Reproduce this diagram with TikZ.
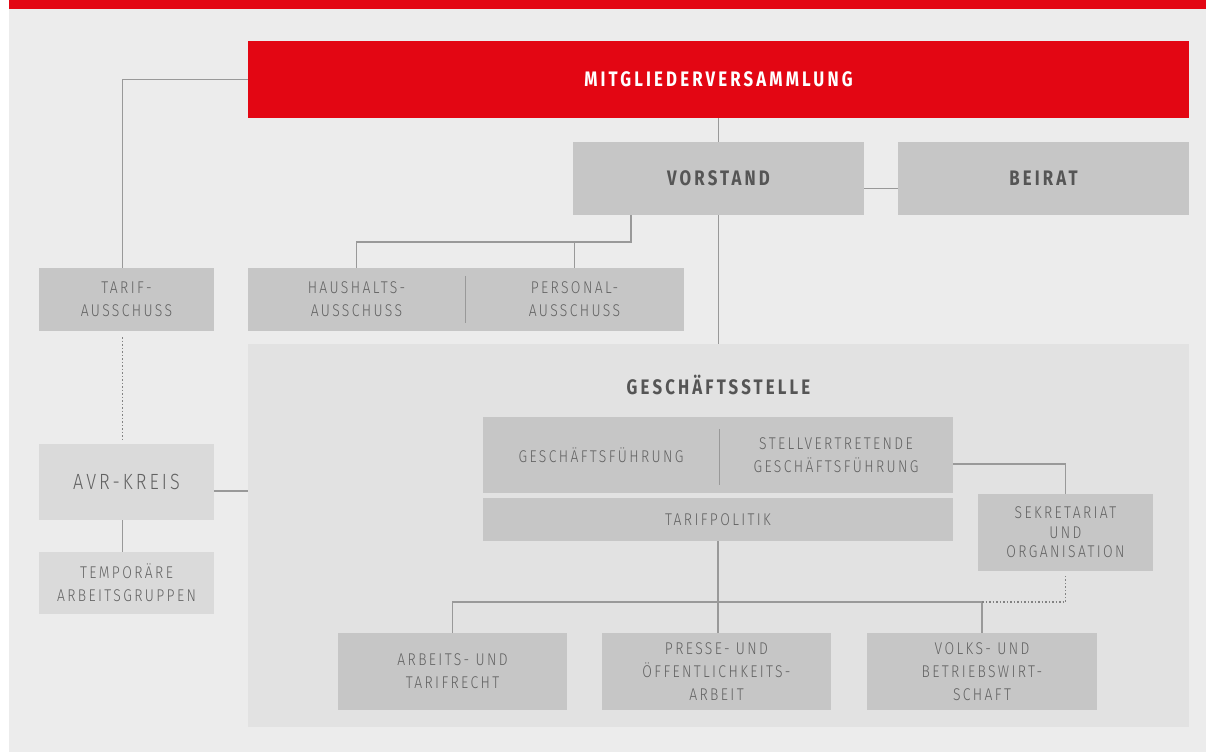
\documentclass[tikz,border=0pt]{standalone}
\usepackage{fontspec}
\setmainfont{Fira Sans}
\newfontfamily\lightfont{Fira Sans Light}[FakeStretch=0.82,LetterSpace=14]
\newfontfamily\headfont{Fira Sans}[FakeStretch=0.8,LetterSpace=15]
\definecolor{dbred}{HTML}{E30613}
\definecolor{bggray}{HTML}{ECECEC}
\definecolor{boxgray}{HTML}{C6C6C6}
\definecolor{areagray}{HTML}{E2E2E2}
\definecolor{palegray}{HTML}{DADADA}
\definecolor{linegray}{HTML}{999999}
\definecolor{txtgray}{HTML}{626262}
\definecolor{darktxt}{HTML}{555555}
\begin{document}
\begin{tikzpicture}[x=1pt,y=-1pt,
	box/.style={fill=boxgray,inner sep=0pt,text=txtgray,align=center,font=\lightfont\fontsize{17}{23}\selectfont},
	palebox/.style={box,fill=palegray},
	headbox/.style={box,text=darktxt,font=\headfont\bfseries\fontsize{21}{23}\selectfont},
	conn/.style={draw=linegray,line width=1.3pt},
	dotconn/.style={conn,draw=linegray!85!black,line width=1.5pt,dash pattern=on 1.5pt off 2pt}]
	\useasboundingbox (0,0) rectangle (1206,752);
	%BACKGROUND
	\fill[white] (0,0) rectangle (1206,752);
	\fill[bggray] (9,0) rectangle (1206,752);
	\fill[dbred] (9,0) rectangle (1206,9);
	\coordinate (lcol) at (122.5,0);
	\coordinate (vsplit) at (631,242);
	\coordinate (bus) at (719,602);
	%TOP
	\node[headbox,fill=dbred,text=white,minimum width=941pt,minimum height=77pt] (mv) at (718.5,79.5) {MITGLIEDERVERSAMMLUNG};
	\node[headbox,minimum width=291pt,minimum height=73pt] (vorstand) at (718.5,178.5) {VORSTAND};
	\node[headbox,minimum width=291pt,minimum height=73pt] (beirat) at (1043.5,178.5) {BEIRAT};
	%AUSSCHUESSE
	\node[box,minimum width=175pt,minimum height=63pt] (tarif) at (126.5,299.5) {TARIF-\\AUSSCHUSS};
	\node[box,minimum width=217pt,minimum height=63pt] (haus) at (356.5,299.5) {HAUSHALTS-\\AUSSCHUSS};
	\node[box,minimum width=219pt,minimum height=63pt] (pers) at (574.5,299.5) {PERSONAL-\\AUSSCHUSS};
	%AVR
	\node[palebox,minimum width=175pt,minimum height=76pt,font=\lightfont\fontsize{22}{23}\selectfont] (avr) at (126.5,482) {AVR-KREIS};
	\node[palebox,minimum width=175pt,minimum height=62pt] (temp) at (126.5,583) {TEMPORÄRE\\ARBEITSGRUPPEN};
	%GESCHAEFTSSTELLE
	\node[fill=areagray,inner sep=0pt,minimum width=941pt,minimum height=383pt] (gs) at (718.5,535.5) {};
	\node[headbox,fill=none] (gstitle) at (718.5,385) {GESCHÄFTSSTELLE};
	\node[box,minimum width=236pt,minimum height=76pt] (gf) at (601,455) {GESCHÄFTSFÜHRUNG};
	\node[box,minimum width=234pt,minimum height=76pt] (sgf) at (836,455) {STELLVERTRETENDE\\GESCHÄFTSFÜHRUNG};
	\node[box,minimum width=470pt,minimum height=43pt] (tp) at (718,519.5) {TARIFPOLITIK};
	\node[box,minimum width=175pt,minimum height=77pt,font=\lightfont\fontsize{17}{19.5}\selectfont] (sek) at (1065.5,532.5) {SEKRETARIAT\\UND\\ORGANISATION};
	\node[box,minimum width=229pt,minimum height=77pt] (atr) at (452.5,671.5) {ARBEITS- UND\\TARIFRECHT};
	\node[box,minimum width=229pt,minimum height=77pt] (pres) at (716.5,671.5) {PRESSE- UND\\ÖFFENTLICHKEITS-\\ARBEIT};
	\node[box,minimum width=230pt,minimum height=77pt] (vbw) at (982,671.5) {VOLKS- UND\\BETRIEBSWIRT-\\SCHAFT};
	%LINES
	\draw[conn] (mv.south) -- (vorstand.north);
	\draw[conn] ([yshift=-10pt]vorstand.east) -- ([yshift=-10pt]beirat.west);
	\draw[conn] (mv.west) -| (tarif.north -| lcol);
	\draw[dotconn] ([yshift=-6pt]tarif.south -| lcol) -- ([yshift=4pt]avr.north -| lcol);
	\draw[conn] (avr.south -| lcol) -- (temp.north -| lcol);
	\draw[conn] ([yshift=-9pt]avr.east) -- ([yshift=-9pt]avr.east -| gs.west);
	\draw[conn] (vorstand.south -| vsplit) -- (vsplit) -| (haus.north);
	\draw[conn] (vsplit -| pers.north) -- (pers.north);
	\draw[conn] ([yshift=-8pt]haus.north east) -- ([yshift=8pt]haus.south east);
	\draw[conn] (vorstand.south) -- (gs.north);
	\draw[conn] ([yshift=-12pt]gf.north east) -- ([yshift=8pt]gf.south east);
	\draw[conn] ([yshift=-9pt]sgf.east) -| (sek.north);
	\draw[conn] (tp.south) -- (tp.south |- pres.north);
	\draw[conn] (atr.north) |- (vbw.north |- bus) -- (vbw.north);
	\draw[dotconn] (vbw.north |- bus) -| ([yshift=-4pt]sek.south);
\end{tikzpicture}
\end{document}
